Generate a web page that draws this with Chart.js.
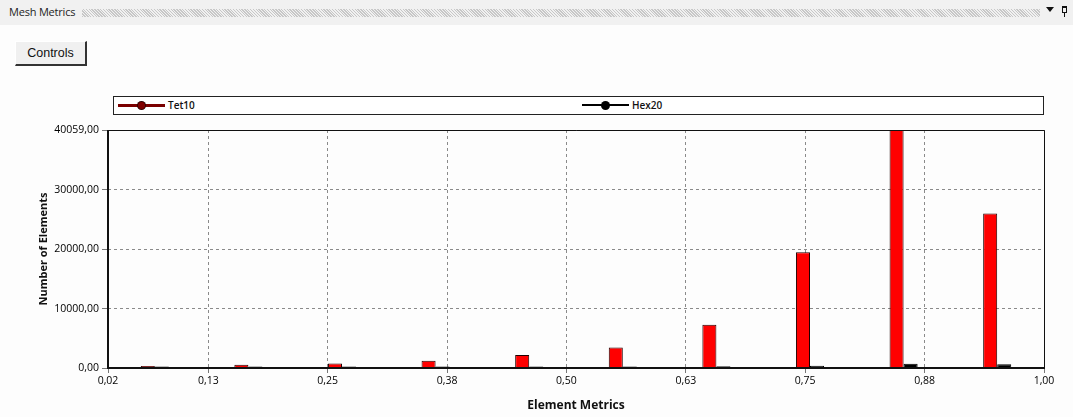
<!DOCTYPE html>
<html>
<head>
<meta charset="utf-8">
<script src="https://cdn.jsdelivr.net/npm/chart.js@4"></script>
<style>
  html, body { margin:0; padding:0; width:1073px; height:417px; overflow:hidden; background:#fdfdfd; font-family:"Open Sans", "Liberation Sans", sans-serif; }
  #hdr { position:absolute; left:0; top:0; width:1073px; height:25px; background:#f1f1f1; }
  #hdrTitle { position:absolute; left:9px; top:4px; font-size:11px; color:#1e1e1e; letter-spacing:-0.2px; }
  #hatch { position:absolute; left:82px; top:9px; width:958px; height:8px;
    background-image: repeating-linear-gradient(45deg, #bdbdbd 0 1px, #f1f1f1 1px 2px), repeating-linear-gradient(-45deg, #bdbdbd 0 1px, transparent 1px 2px); opacity:0.8; }
  #drop { position:absolute; left:1046px; top:7px; width:0; height:0; border-left:4px solid transparent; border-right:4px solid transparent; border-top:5px solid #111; }
  #pin1 { position:absolute; left:1062px; top:6px; width:5px; height:7px; border:1px solid #111; border-top:2px solid #111; box-sizing:border-box; }
  #pin2 { position:absolute; left:1064px; top:13px; width:1px; height:4px; background:#111; }
  #btn { position:absolute; left:15px; top:41px; width:72px; height:25px; box-sizing:border-box; background:#f0f0f0;
    border-top:1px solid #fff; border-left:1px solid #fff; border-right:2px solid #333; border-bottom:2px solid #333;
    font-family:"Liberation Sans", Arial, sans-serif; font-size:12.5px; color:#111; text-align:center; line-height:22px; }
  #legend { position:absolute; left:113px; top:96px; width:931px; height:19px; box-sizing:border-box; border:1.5px solid #222; background:#fff; }
  .item { position:absolute; top:0; height:16px; }
  .line { position:absolute; top:7px; width:47px; }
  .dot { position:absolute; border-radius:50%; }
  .lab { position:absolute; left:50px; top:0; font-size:10px; font-weight:600; color:#111; line-height:16px; white-space:nowrap; }
  #c { position:absolute; left:0; top:0; }
</style>
</head>
<body>
<div id="hdr"><div id="hdrTitle">Mesh Metrics</div><div id="hatch"></div><div id="drop"></div><div id="pin1"></div><div id="pin2"></div></div>
<div id="btn">Controls</div>
<canvas id="c" width="1073" height="417"></canvas>
<div id="legend"></div>
<script>
// ---- data ----
const binLabels = ['0,069','0,167','0,265','0,363','0,461','0,559','0,657','0,755','0,853','0,951'];
const tet10 = [350, 550, 750, 1200, 2200, 3450, 7300, 19500, 40059, 26000];
const hex20 = [250, 250, 250, 250, 250, 250, 300, 380, 700, 650];
const seriesNames = ['Tet10', 'Hex20'];
const xTickValues = [0.02, 0.125, 0.25, 0.375, 0.5, 0.625, 0.75, 0.875, 1.0];
const xTickLabels = ['0,02','0,13','0,25','0,38','0,50','0,63','0,75','0,88','1,00'];
const yTickValues = [0, 10000, 20000, 30000, 40059];
const yTitle = 'Number of Elements';
const xTitle = 'Element Metrics';

// ---- legend (HTML) ----
const legendStyles = [
  { left: 4, line: '#7a0000', lw: 3, dot: '#800000', dotBorder: '#300000', r: 3.5 },
  { left: 468, line: '#000000', lw: 2, dot: '#000000', dotBorder: '#000000', r: 3.5 }
];
const leg = document.getElementById('legend');
seriesNames.forEach((n, i) => {
  const s = legendStyles[i];
  const it = document.createElement('div'); it.className = 'item'; it.style.left = s.left + 'px';
  const ln = document.createElement('div'); ln.className = 'line';
  ln.style.height = s.lw + 'px'; ln.style.top = (8 - s.lw / 2) + 'px'; ln.style.background = s.line;
  const d = document.createElement('div'); d.className = 'dot';
  d.style.width = d.style.height = (2 * s.r) + 'px'; d.style.left = (23.5 - s.r) + 'px'; d.style.top = (8 - s.r) + 'px';
  d.style.background = s.dot; d.style.boxShadow = '0 0 0 1px ' + s.dotBorder; 
  const lb = document.createElement('div'); lb.className = 'lab'; lb.textContent = n;
  it.appendChild(ln); it.appendChild(d); it.appendChild(lb); leg.appendChild(it);
});

// ---- frame plugin ----
const frame = {
  id: 'frame',
  afterDraw(chart) {
    const { ctx, chartArea: a } = chart;
    ctx.save();
    ctx.strokeStyle = '#111';
    ctx.lineWidth = 1;
    ctx.beginPath();
    ctx.moveTo(a.left, a.top + 0.5); ctx.lineTo(a.right + 0.5, a.top + 0.5); ctx.lineTo(a.right + 0.5, a.bottom);
    ctx.stroke();
    ctx.lineWidth = 2;
    ctx.beginPath();
    ctx.moveTo(a.left, a.top); ctx.lineTo(a.left, a.bottom); ctx.lineTo(a.right + 1, a.bottom);
    ctx.stroke();
    ctx.restore();
  }
};

const tickFont = { family: '"Open Sans", sans-serif', size: 10.5 };
new Chart(document.getElementById('c'), {
  type: 'bar',
  data: {
    labels: binLabels,
    datasets: [
      { label: seriesNames[0], data: tet10, backgroundColor: '#ff0000', borderColor: '#200000', borderWidth: 1, borderSkipped: 'bottom' },
      { label: seriesNames[1], data: hex20, backgroundColor: '#000000', borderColor: '#000000', borderWidth: 1, borderSkipped: 'bottom' }
    ]
  },
  options: {
    responsive: false,
    animation: false,
    layout: { padding: { left: 33, right: 29, top: 130, bottom: 0 } },
    datasets: { bar: { categoryPercentage: 0.3, barPercentage: 1.0 } },
    plugins: { legend: { display: false }, tooltip: { enabled: false } },
    scales: {
      x: { type: 'category', display: false, offset: true },
      x2: {
        type: 'linear', position: 'bottom', min: xTickValues[0], max: xTickValues[xTickValues.length - 1], offset: false,
        afterBuildTicks: (s) => { s.ticks = xTickValues.map(v => ({ value: v })); },
        afterFit: (s) => { s.height = 49; },
        ticks: { callback: (v, i) => xTickLabels[i], font: tickFont, color: '#000', padding: 2, maxRotation: 0, autoSkip: false },
        grid: { offset: false, color: '#8a8a8a', lineWidth: 1, tickLength: 5, tickColor: '#777' },
        border: { display: false, dash: [3, 3] },
        title: { display: true, text: xTitle, font: { family: '"Open Sans", sans-serif', size: 12, weight: 'bold' }, color: '#111', padding: { top: 2, bottom: 4 } }
      },
      y: {
        type: 'linear', min: 0, max: yTickValues[yTickValues.length - 1],
        afterBuildTicks: (s) => { s.ticks = yTickValues.map(v => ({ value: v })); },
        afterFit: (s) => { s.width = 75; },
        ticks: { callback: (v) => v.toFixed(2).replace('.', ','), font: tickFont, color: '#000', padding: 3, autoSkip: false },
        grid: { color: '#8a8a8a', lineWidth: 1, tickLength: 6, tickColor: '#777' },
        border: { display: false, dash: [3, 3] },
        title: { display: true, text: yTitle, font: { family: '"Open Sans", sans-serif', size: 11, weight: 'bold' }, color: '#111', padding: { top: 4, bottom: 2 } }
      }
    }
  },
  plugins: [frame]
});
</script>
</body>
</html>
